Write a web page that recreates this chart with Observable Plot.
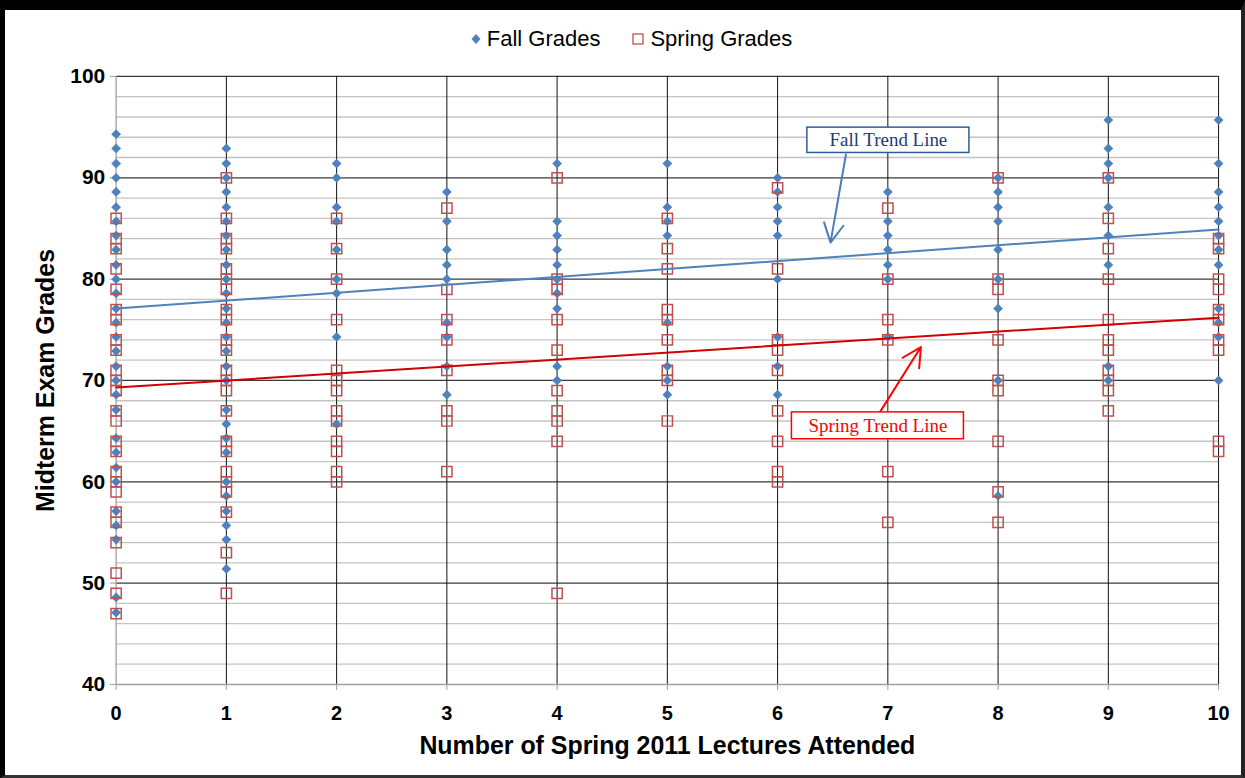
<!DOCTYPE html>
<html><head><meta charset="utf-8">
<script src="https://cdn.jsdelivr.net/npm/d3@7"></script>
<script src="https://cdn.jsdelivr.net/npm/@observablehq/plot@0.6"></script>
<style>
html,body{margin:0;padding:0;background:#fff;}
#frame{position:relative;width:1245px;height:778px;box-sizing:border-box;border-top:10px solid #000;border-left:5px solid #000;border-right:4px solid #222;border-bottom:3px solid #333;overflow:hidden;background:#fff;}
#legend{position:absolute;top:16px;left:-5px;width:1245px;display:flex;justify-content:center;align-items:center;font-family:"Liberation Sans Narrow","Liberation Sans",sans-serif;font-size:22px;color:#000;padding-left:18px;box-sizing:border-box;}
#legend .item{display:flex;align-items:center;margin:0 16px;}
#legend svg{margin-right:6px;}
#chart{position:absolute;top:50px;left:-5px;}
</style>
</head><body>
<div id="frame">
  <div id="legend">
    <div class="item"><svg width="10" height="12"><path d="M5,1 L9.5,6 L5,11 L0.5,6 Z" fill="#4F81BD"/></svg>Fall Grades</div>
    <div class="item"><svg width="12" height="12"><rect x="1" y="1" width="10" height="10" fill="none" stroke="#C0504D" stroke-width="1.3"/></svg>Spring Grades</div>
  </div>
  <div id="chart"></div>
</div>
<script>
// ---- data ----
const lectures = [0,1,2,3,4,5,6,7,8,9,10];
const fallGrades = [
  [94.3,92.9,91.4,90,88.6,87.1,85.7,84.3,82.9,81.4,80,78.6,77.1,75.7,74.3,72.9,71.4,70,68.6,67.1,64.3,62.9,61.4,60,57.1,55.7,54.3,48.6,47.1],
  [92.9,91.4,90,88.6,87.1,85.7,84.3,82.9,81.4,80,78.6,77.1,75.7,74.3,72.9,71.4,70,67.1,65.7,64.3,62.9,60,58.6,57.1,55.7,54.3,51.4],
  [91.4,90,87.1,85.7,82.9,80,78.6,74.3,65.7],
  [88.6,85.7,82.9,81.4,80,75.7,74.3,71.4,68.6],
  [91.4,85.7,84.3,82.9,81.4,80,78.6,77.1,71.4,70],
  [91.4,87.1,85.7,84.3,75.7,71.4,70,68.6],
  [90,88.6,87.1,85.7,84.3,80,74.3,71.4,68.6],
  [88.6,85.7,84.3,82.9,81.4,80,74.3],
  [90,88.6,87.1,85.7,82.9,80,77.1,70,58.6],
  [95.7,92.9,91.4,90,87.1,84.3,81.4,71.4,70],
  [95.7,91.4,88.6,87.1,85.7,84.3,82.9,81.4,77.1,75.7,74.3,70]
];
const springGrades = [
  [86,84,83,81,79,77,76,74,73,71,70,69,67,66,64,63,61,60,59,57,56,54,51,49,47],
  [90,86,84,83,81,80,79,77,76,74,73,71,70,69,67,64,63,61,60,59,57,53,49],
  [86,83,80,76,71,70,69,67,66,64,63,61,60],
  [87,79,76,74,71,67,66,61],
  [90,80,79,76,73,69,67,66,64,49],
  [86,83,81,77,76,74,71,70,66],
  [89,81,74,73,71,67,64,61,60],
  [87,80,76,74,61,56],
  [90,80,79,74,70,69,64,59,56],
  [90,86,83,80,76,74,73,71,70,69,67],
  [84,83,80,79,77,76,74,73,64,63]
];
const trendX = [0, 10];
const fallTrend = [77.1, 84.9];
const springTrend = [69.3, 76.2];
const yMajorTicks = [40,50,60,70,80,90,100];
const yMinorTicks = [42,44,46,48,52,54,56,58,62,64,66,68,72,74,76,78,82,84,86,88,92,94,96,98];
const xTicks = [0,1,2,3,4,5,6,7,8,9,10];
const fallNote = {label:"Fall Trend Line", bx1:6.27, bx2:7.74, by1:92.45, by2:94.95, ax1:6.62, ay1:92.3, ax2:6.48, ay2:83.6};
const springNote = {label:"Spring Trend Line", bx1:6.13, bx2:7.69, by1:64.2, by2:66.85, ax1:6.93, ay1:66.9, ax2:7.30, ay2:73.3};

// ---- build tables ----
const fallPts = lectures.flatMap((x,i)=>fallGrades[i].map(g=>({x, g})));
const springPts = lectures.flatMap((x,i)=>springGrades[i].map(g=>({x, g})));
const fallLine = trendX.map((x,i)=>({x, g:fallTrend[i]}));
const springLine = trendX.map((x,i)=>({x, g:springTrend[i]}));

const boldFont = '"Liberation Sans Narrow","Liberation Sans",sans-serif';

const chart = Plot.plot({
  width: 1245, height: 718,
  marginLeft: 116, marginRight: 23, marginTop: 16, marginBottom: 92,
  x: {domain: [0, 10]},
  y: {domain: [40, 100]},
  style: {fontFamily: boldFont, background: "transparent", overflow: "visible"},
  marks: [
    Plot.ruleY(yMinorTicks, {stroke: "#c4c4c4", strokeWidth: 1.3}),
    Plot.ruleY(yMajorTicks.filter(v => v > 40), {stroke: "#3a3a3a", strokeWidth: 1.3}),
    Plot.ruleX(xTicks.filter(v => v > 0), {stroke: "#111", strokeWidth: 1}),
    Plot.ruleX([0], {stroke: "#a0a0a0", strokeWidth: 1.3}),
    Plot.ruleY([40], {stroke: "#a0a0a0", strokeWidth: 1.3}),
    Plot.axisY({ticks: yMajorTicks, tickSize: 6, tickPadding: 5, stroke: "#a0a0a0", fill: "#000",
      fontSize: 21, fontWeight: "bold", label: null}),
    Plot.axisX({ticks: xTicks, tickSize: 6, tickPadding: 15, stroke: "#a0a0a0", fill: "#000",
      fontSize: 20, fontWeight: "bold", label: null}),
    Plot.text(["Midterm Exam Grades"], {frameAnchor: "left", dx: -70, rotate: -90, textAnchor: "middle", lineAnchor: "middle", fontSize: 25, fontWeight: "bold", fill: "#000"}),
    Plot.text(["Number of Spring 2011 Lectures Attended"], {frameAnchor: "bottom", dy: 62, lineAnchor: "middle", fontSize: 25, fontWeight: "bold", fill: "#000"}),
    Plot.dot(fallPts, {x: "x", y: "g", symbol: "diamond2", r: 4.4, fill: "#4F81BD", stroke: "none"}),
    Plot.dot(springPts, {x: "x", y: "g", symbol: "square", r: 5.8, fill: "none", stroke: "#C0504D", strokeWidth: 1.5}),
    Plot.line(fallLine, {x: "x", y: "g", stroke: "#4F81BD", strokeWidth: 2}),
    Plot.line(springLine, {x: "x", y: "g", stroke: "#D00000", strokeWidth: 2}),
    // annotations
    Plot.arrow([fallNote], {x1: "ax1", y1: "ay1", x2: "ax2", y2: "ay2", stroke: "#4A7EBB", strokeWidth: 2, headLength: 16, headAngle: 55}),
    Plot.rect([fallNote], {x1: "bx1", x2: "bx2", y1: "by1", y2: "by2", fill: "#fff", stroke: "#2C5D9A", strokeWidth: 1.5}),
    Plot.text([fallNote], {x: d => (d.bx1 + d.bx2) / 2, y: d => (d.by1 + d.by2) / 2, text: "label", fontFamily: '"Liberation Serif",serif', fontSize: 19, fill: "#1F3A6E"}),
    Plot.arrow([springNote], {x1: "ax1", y1: "ay1", x2: "ax2", y2: "ay2", stroke: "#FF0000", strokeWidth: 2, headLength: 16, headAngle: 55}),
    Plot.rect([springNote], {x1: "bx1", x2: "bx2", y1: "by1", y2: "by2", fill: "#fff", stroke: "#FF0000", strokeWidth: 1.5}),
    Plot.text([springNote], {x: d => (d.bx1 + d.bx2) / 2, y: d => (d.by1 + d.by2) / 2, text: "label", fontFamily: '"Liberation Serif",serif', fontSize: 19, fill: "#FF0000"})
  ]
});
document.getElementById("chart").appendChild(chart);
</script>
</body></html>
